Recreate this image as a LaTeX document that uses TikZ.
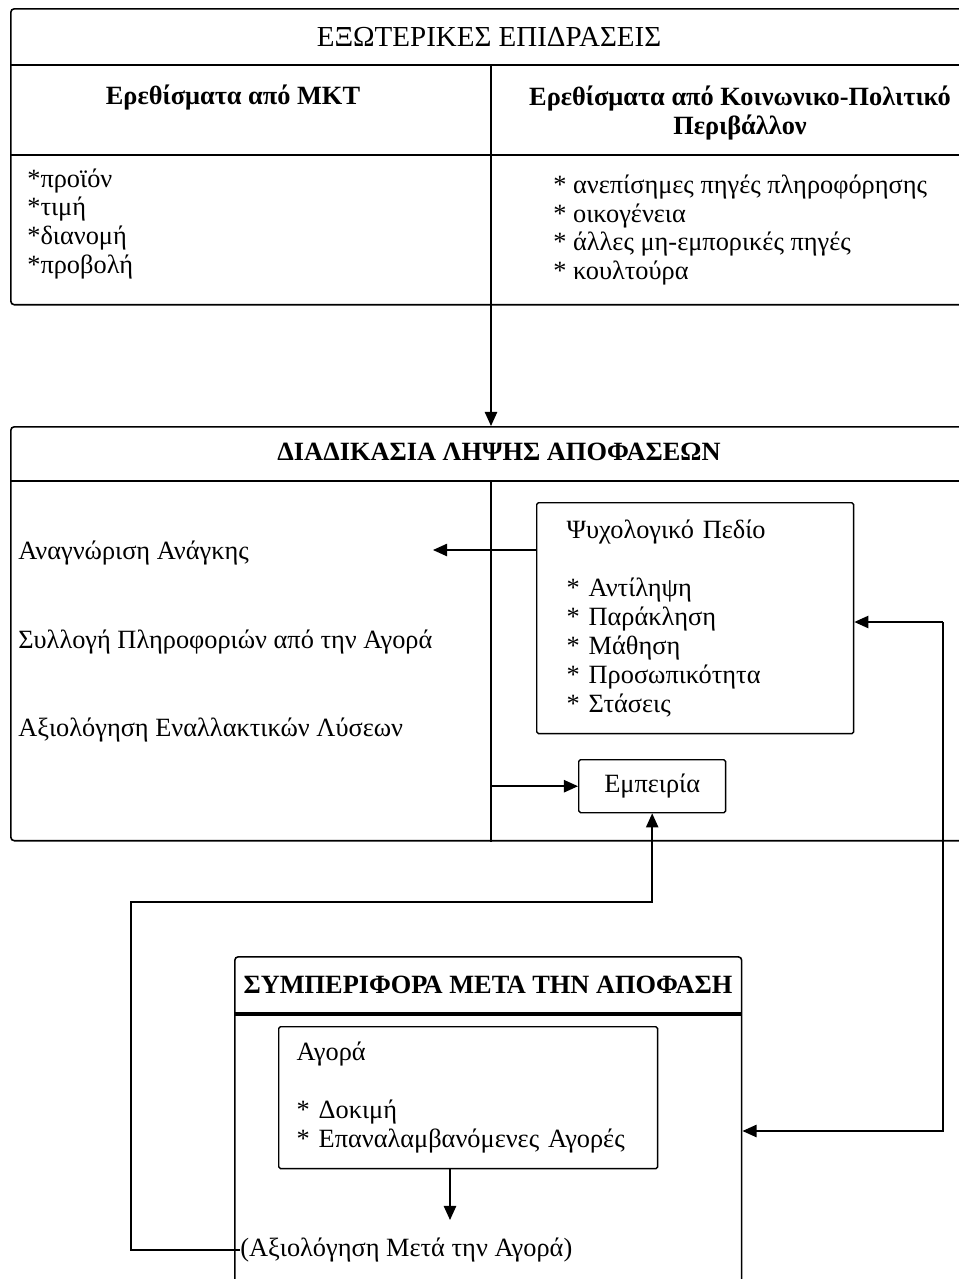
\documentclass[tikz,border=0pt]{standalone}
\usepackage{fontspec}
\setmainfont{Liberation Serif}
\usetikzlibrary{arrows.meta,positioning}

\tikzset{
  panel/.style={draw, line width=0.9pt, rounded corners=2pt, anchor=north west, inner sep=0pt},
  rule/.style={line width=0.9pt},
  box/.style={draw, line width=0.8pt, rounded corners=1pt, anchor=north west, align=left},
  txt/.style={inner sep=0pt, align=left, font=\fontsize{15}{16.5}\selectfont},
  head/.style={inner sep=0pt, align=center, font=\bfseries\fontsize{15}{16.5}\selectfont},
  arr/.style={-{Triangle[length=8pt,width=7pt]}, line width=0.9pt},
}

\begin{document}
\begin{tikzpicture}[x=0.02cm, y=-0.02cm]
  \useasboundingbox (0, 0) rectangle (958, 1279);

  % external influences
  \node[panel, minimum width=20cm, minimum height=5.92cm] (ext) at (10, 8) {};
  \draw[rule] (10, 65) -- (1010, 65);
  \draw[rule] (10, 155) -- (1010, 155);
  \coordinate (extdiv) at (491, 65);
  \draw[rule] (extdiv) -- (extdiv |- ext.south);
  \node[txt, font=\fontsize{16.5}{18}\selectfont] (exttitle) at (489, 37) {ΕΞΩΤΕΡΙΚΕΣ ΕΠΙΔΡΑΣΕΙΣ};
  \node[head] (mkthead) at (233, 98) {Ερεθίσματα από ΜΚΤ};
  \node[head] (sochead) at (740, 113) {Ερεθίσματα από Κοινωνικο-Πολιτικό\\Περιβάλλον};
  \node[txt, anchor=west] (mktlist) at (27, 224) {*προϊόν\\{}*τιμή\\{}*διανομή\\{}*προβολή};
  \node[txt, anchor=west] (soclist) at (553, 230)
    {* ανεπίσημες πηγές πληροφόρησης\\{}* οικογένεια\\{}* άλλες μη-εμπορικές πηγές\\{}* κουλτούρα};

  % decision process
  \node[panel, minimum width=20cm, minimum height=8.28cm] (dec) at (10, 426) {};
  \draw[rule] (10, 481) -- (1010, 481);
  \coordinate (decdiv) at (491, 481);
  \draw[rule] (decdiv) -- (decdiv |- dec.south);
  \node[head] (dectitle) at (499, 452) {ΔΙΑΔΙΚΑΣΙΑ ΛΗΨΗΣ ΑΠΟΦΑΣΕΩΝ};
  \node[txt, anchor=west] (need) at (18, 553) {Αναγνώριση Ανάγκης};
  \node[txt, anchor=west] (info) at (18, 642) {Συλλογή Πληροφοριών από την Αγορά};
  \node[txt, anchor=west] (alt) at (18, 730) {Αξιολόγηση Εναλλακτικών Λύσεων};
  \node[box, txt, inner xsep=0.6cm, text width=5.14cm, minimum height=4.62cm, draw] (psych) at (536, 502)
    {Ψυχολογικό Πεδίο\\[16.5pt]{}* Αντίληψη\\{}* Παράκληση\\{}* Μάθηση\\{}* Προσωπικότητα\\{}* Στάσεις};
  \node[box, txt, align=center, minimum width=2.94cm, minimum height=1.06cm, draw] (exper) at (578, 759) {Εμπειρία};

  % post-decision behaviour
  \node[panel, minimum width=10.14cm, minimum height=8cm] (post) at (234, 956) {};
  \draw[line width=2pt] (234, 1014) -- (741, 1014);
  \node[head] (posttitle) at (488, 985) {ΣΥΜΠΕΡΙΦΟΡΑ ΜΕΤΑ ΤΗΝ ΑΠΟΦΑΣΗ};
  \node[box, txt, inner xsep=0.36cm, text width=6.86cm, minimum height=2.84cm, draw] (buy) at (278, 1026)
    {Αγορά\\[16.5pt]{}* Δοκιμή\\{}* Επαναλαμβανόμενες Αγορές};
  \node[txt, anchor=west] (evalpost) at (240, 1250) {(Αξιολόγηση Μετά την Αγορά)};

  % connectors
  \coordinate (needtip) at (433, 550);
  \coordinate (evaltip) at (450, 1220);
  \coordinate (loopl) at (131, 902);
  \coordinate (rtop) at (943, 622);
  \coordinate (rbot) at (943, 1131);
  \draw[arr] (491, 304) -- (491, 426);
  \draw[arr] (psych.west |- needtip) -- (needtip);
  \draw[arr] (decdiv |- exper.west) -- (exper.west);
  \draw[arr] (buy.south -| evaltip) -- (evaltip);
  \draw[arr] (evalpost.west) -| (loopl) -| (exper.south);
  \draw[arr] (rtop) -- (rtop -| psych.east);
  \draw[arr] (rtop) |- (rbot -| post.east);
\end{tikzpicture}
\end{document}
